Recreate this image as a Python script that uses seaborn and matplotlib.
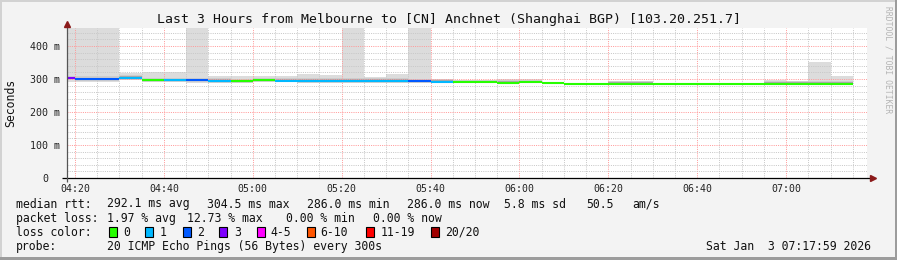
import matplotlib
matplotlib.use("Agg")
import matplotlib.pyplot as plt
from matplotlib.patches import Rectangle
import numpy as np
import pandas as pd
import seaborn as sns

W, H = 897, 260

# ---------------- data ----------------
title = "Last 3 Hours from Melbourne to [CN] Anchnet (Shanghai BGP) [103.20.251.7]"
y_label = "Seconds"
watermark = "RRDTOOL / TOBI OETIKER"

slot_start = ["04:15", "04:20", "04:25", "04:30", "04:35", "04:40", "04:45", "04:50",
              "04:55", "05:00", "05:05", "05:10", "05:15", "05:20", "05:25", "05:30",
              "05:35", "05:40", "05:45", "05:50", "05:55", "06:00", "06:05", "06:10",
              "06:15", "06:20", "06:25", "06:30", "06:35", "06:40", "06:45", "06:50",
              "06:55", "07:00", "07:05", "07:10"]
slot_minutes = 5
median_ms = [303, 301, 301, 304.5, 296, 296, 297, 295,
             294, 296, 295, 295, 295, 295, 295, 295,
             293, 292, 291, 291, 289, 290, 288.5, 286,
             286, 286, 286, 286, 286, 286, 286, 286,
             286, 286, 286, 286]
lost_pings = [3, 2, 2, 1, 0, 1, 2, 1,
              0, 0, 1, 1, 1, 1, 1, 1,
              2, 1, 0, 0, 0, 0, 0, 0,
              0, 0, 0, 0, 0, 0, 0, 0,
              0, 0, 0, 0]
smoke_lo_ms = [291, 292, 290, 297, 291, 291, 287, 289,
               289, 291, 291, 287, 287, 289, 287, 287,
               287, 287, 288, 288, 287, 287, 286, 285,
               285, 285, 285, 285, 285, 285, 285, 285,
               285, 285, 285, 285]
smoke_hi_ms = [600, 600, 600, 317, 320, 320, 600, 310,
               309, 309, 309, 314, 313, 600, 307, 315,
               600, 299, 297, 296, 301, 299, 291, 288,
               288, 295, 293, 287, 287, 287, 287, 287,
               298, 294, 351.5, 310]

window_start = "04:18:12"
window_end = "07:18:12"
x_tick_labels = ["04:20", "04:40", "05:00", "05:20", "05:40", "06:00", "06:20", "06:40", "07:00"]
y_ticks = [0, 100, 200, 300, 400]
y_tick_labels = ["0", "100 m", "200 m", "300 m", "400 m"]
y_max = 454.5

loss_names = ["0", "1", "2", "3", "4-5", "6-10", "11-19", "20/20"]
loss_upper = [0, 1, 2, 3, 5, 10, 19, 20]
loss_colors = ["#26ff00", "#00b8ff", "#0059ff", "#7e00ff", "#ff00ff", "#ff5500", "#ff0000", "#a10000"]

row_rtt = [("median rtt:", 16), ("292.1 ms avg", 107.3), ("304.5 ms max", 207.3),
           ("286.0 ms min", 307.3), ("286.0 ms now", 407.3), ("5.8 ms sd", 504),
           ("50.5", 586), ("am/s", 632)]
row_loss = [("packet loss:", 16), ("1.97 % avg", 107.3), ("12.73 % max", 186.7),
            ("0.00 % min", 286), ("0.00 % now", 373)]
loss_color_label = "loss color:"
loss_box_x = [108.7, 145.3, 182.7, 219.3, 256.7, 307.3, 365.7, 430.7]
loss_text_x = [123.3, 160, 197.3, 234, 270.7, 320.7, 380.7, 445.3]
probe_label = "probe:"
probe_text = "20 ICMP Echo Pings (56 Bytes) every 300s"
date_text = "Sat Jan  3 07:17:59 2026"


def to_min(s):
    parts = [float(p) for p in s.split(":")]
    while len(parts) < 3:
        parts.append(0.0)
    return parts[0] * 60 + parts[1] + parts[2] / 60


def bucket(n):
    for name, up in zip(loss_names, loss_upper):
        if n <= up:
            return name
    return loss_names[-1]


starts = np.array([to_min(s) for s in slot_start])
med = np.array(median_ms, dtype=float)
lo = np.array(smoke_lo_ms, dtype=float)
hi = np.array(smoke_hi_ms, dtype=float)

rows = []
for i, (t0, m, n) in enumerate(zip(starts, med, lost_pings)):
    for t in (t0, t0 + slot_minutes):
        rows.append({"t": t, "ms": m, "loss": bucket(n), "seg": i})
df = pd.DataFrame(rows)

# ---------------- style ----------------
sns.set_style("white")
plt.rcParams["font.family"] = ["DejaVu Sans Mono"]
plt.rcParams["text.color"] = "#111111"

fig = plt.figure(figsize=(W / 100, H / 100), dpi=100)
fig.patch.set_facecolor("#f3f3f3")
ax = fig.add_axes([67 / W, (H - 178) / H, 800 / W, 150 / H])
ax.set_facecolor("white")

x0, x1 = to_min(window_start), to_min(window_end)
ax.set_xlim(x0, x1)
ax.set_ylim(0, y_max)

# smoke
ax.bar(starts, hi - lo, bottom=lo, width=slot_minutes, align="edge",
       color="#dcdcdc", linewidth=0, zorder=1)
mid_lo = np.maximum(lo, med - 7)
mid_hi = np.minimum(hi, med + 7)
ax.bar(starts, mid_hi - mid_lo, bottom=mid_lo, width=slot_minutes, align="edge",
       color="#cdcdcd", linewidth=0, zorder=1.1)
core_lo = np.maximum(lo, med - 3.5)
core_hi = np.minimum(hi, med + 3.5)
ax.bar(starts, core_hi - core_lo, bottom=core_lo, width=slot_minutes, align="edge",
       color="#a8a8a8", linewidth=0, zorder=1.2)

# median lines coloured by loss
palette = dict(zip(loss_names, loss_colors))
sns.lineplot(data=df, x="t", y="ms", hue="loss", units="seg", estimator=None,
             palette=palette, legend=False, linewidth=1.5, ax=ax,
             solid_capstyle="butt", zorder=3)

# grid
tick_min = [to_min(s) for s in x_tick_labels]
ax.set_xticks(tick_min)
ax.set_xticklabels(x_tick_labels, fontsize=7.1)
ax.set_xticks(np.arange(tick_min[0], x1, 5), minor=True)
ax.set_yticks(y_ticks)
ax.set_yticklabels([])
ax.set_yticks(np.arange(20, y_max, 20), minor=True)
ax.set_axisbelow(False)
ax.grid(which="minor", color="#c8c8c8", linestyle=(0, (1, 1.2)), linewidth=0.72, zorder=2)
ax.grid(which="major", color="#ff9a9a", linestyle=(0, (1, 1.2)), linewidth=0.72, zorder=2)
ax.tick_params(axis="both", which="major", length=2.2, width=0.72, color="#999999")
ax.tick_params(axis="both", which="minor", length=1.5, width=0.72, color="#bbbbbb")
ax.tick_params(axis="x", which="major", pad=2, labelcolor="#222222")
ax.set_xlabel("")
ax.set_ylabel("")
for s in ax.spines.values():
    s.set_visible(False)

# axis lines with arrows
ax.plot([-5 / 800, 1 + 4 / 800], [0, 0], transform=ax.transAxes, color="black",
        lw=0.9, clip_on=False, zorder=4, solid_capstyle="butt")
ax.plot([0, 0], [-4 / 150, 1 + 2 / 150], transform=ax.transAxes, color="#555555",
        lw=0.9, clip_on=False, zorder=4, solid_capstyle="butt")
ax.plot([1 + 6 / 800], [0], marker=">", markersize=4, color="#8b1a1a",
        transform=ax.transAxes, clip_on=False, zorder=5)
ax.plot([0], [1 + 4 / 150], marker="^", markersize=4, color="#8b1a1a",
        transform=ax.transAxes, clip_on=False, zorder=5)

# y tick labels (rrdtool style, unit column kept)
for v, lab in zip(y_ticks, y_tick_labels):
    right_px = 60 if " " in lab else 48
    ax.text((right_px - 67) / 800, v, lab, transform=ax.get_yaxis_transform(),
            ha="right", va="center_baseline", fontsize=7.2, color="#222222")


def ftxt(x, y, s, **kw):
    kw.setdefault("fontsize", 8.3)
    kw.setdefault("va", "baseline")
    kw.setdefault("ha", "left")
    fig.text(x / W, 1 - y / H, s, **kw)


ftxt(448.5, 23.5, title, fontsize=9.5, ha="center")
ftxt(11, 102.5, y_label, rotation=90, ha="center", va="center")
ftxt(888, 60, watermark, rotation=270, ha="center", va="center", fontsize=5.8, color="#b4b4b4")

for s, x in row_rtt:
    ftxt(x, 207.5, s)
for s, x in row_loss:
    ftxt(x, 221.7, s)
ftxt(16, 235.8, loss_color_label)
for name, col, bx, tx in zip(loss_names, loss_colors, loss_box_x, loss_text_x):
    fig.add_artist(Rectangle((bx / W, 1 - 237 / H), 8 / W, 10 / H, transform=fig.transFigure,
                             facecolor=col, edgecolor="black", linewidth=0.8))
    ftxt(tx, 235.8, name)
ftxt(16, 250, probe_label)
ftxt(107.3, 250, probe_text)
ftxt(871, 250, date_text, ha="right")

# image border (rrdtool shadow frame)
fig.add_artist(Rectangle((0, 0), 2 / W, 1, transform=fig.transFigure, fc="#d2d2d2", ec="none"))
fig.add_artist(Rectangle((0, 1 - 2 / H), 1, 2 / H, transform=fig.transFigure, fc="#d2d2d2", ec="none"))
fig.add_artist(Rectangle((1 - 2 / W, 0), 2 / W, 1, transform=fig.transFigure, fc="#9c9c9c", ec="none"))
fig.add_artist(Rectangle((0, 0), 1, 3 / H, transform=fig.transFigure, fc="#9c9c9c", ec="none"))

fig.savefig("out.png", dpi=100, facecolor=fig.get_facecolor())
